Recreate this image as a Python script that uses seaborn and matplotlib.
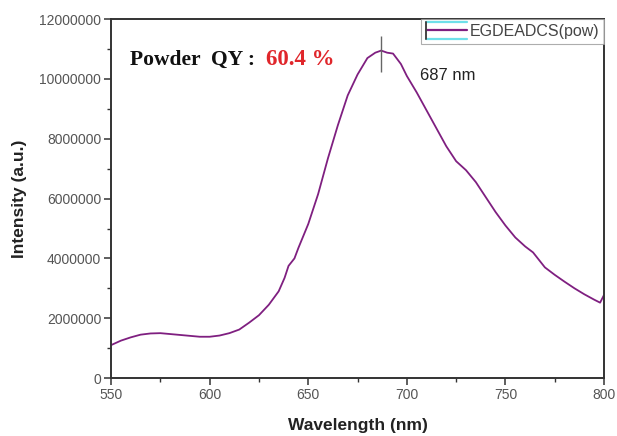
import numpy as np
import pandas as pd
import matplotlib
matplotlib.use("Agg")
import matplotlib.pyplot as plt
from matplotlib.lines import Line2D
from matplotlib.legend_handler import HandlerBase
from matplotlib.ticker import MultipleLocator, FuncFormatter
import seaborn as sns

# Emission spectrum of the powder sample
wavelength = [550, 555, 560, 565, 570, 575, 580, 585, 590, 595, 600, 605, 610, 615,
              620, 625, 630, 635, 638, 640, 643, 645, 650, 655, 660, 665, 670, 675,
              680, 684, 687, 690, 693, 697, 700, 705, 710, 715, 720, 725, 730, 735,
              740, 745, 750, 755, 760, 764, 770, 775, 780, 785, 790, 795, 798, 800]
intensity = [1.10, 1.25, 1.36, 1.45, 1.49, 1.50, 1.47, 1.44, 1.41, 1.38, 1.38, 1.42,
             1.50, 1.62, 1.85, 2.10, 2.45, 2.90, 3.35, 3.75, 4.00, 4.35, 5.15, 6.15,
             7.35, 8.45, 9.45, 10.15, 10.70, 10.88, 10.95, 10.88, 10.85, 10.50, 10.10,
             9.55, 8.95, 8.35, 7.75, 7.25, 6.95, 6.55, 6.05, 5.55, 5.10, 4.70, 4.40,
             4.20, 3.70, 3.45, 3.22, 3.00, 2.80, 2.62, 2.52, 2.78]
intensity = [v * 1e6 for v in intensity]

series_name = "EGDEADCS(pow)"
peak_nm = 687
qy_label = "Powder  QY :"
qy_value = "60.4 %"

df = pd.DataFrame({"Wavelength": wavelength, "Intensity": intensity})

sns.set_style("ticks")
plt.rcParams["font.family"] = ["Liberation Sans", "DejaVu Sans"]

fig = plt.figure(figsize=(6.17, 4.36), dpi=100)
ax = fig.add_axes([0.180, 0.133, 0.799, 0.823])

line_color = "#7f1f80"
sns.lineplot(data=df, x="Wavelength", y="Intensity", ax=ax, color=line_color,
             linewidth=1.3, legend=False)

# peak marker and label
ax.vlines(peak_nm, 10.25e6, 11.45e6, color="#666666", linewidth=1.0)
ax.text(706.5, 10.1e6, f"{peak_nm} nm", fontsize=12, color="#222222", va="center")

# quantum yield annotation
t1 = ax.text(559.5, 10.65e6, qy_label, fontsize=15.5, fontweight="bold",
             family=["Liberation Serif"], color="#111111", va="center")
ax.annotate(qy_value, xy=(1, 0.5), xycoords=t1, xytext=(8, 0),
            textcoords="offset points", va="center", ha="left",
            fontsize=16.5, fontweight="bold", family=["Liberation Serif"],
            color="#e0262b")

ax.set_xlim(550, 800)
ax.set_ylim(0, 12e6)
ax.xaxis.set_major_locator(MultipleLocator(50))
ax.xaxis.set_minor_locator(MultipleLocator(25))
ax.yaxis.set_major_locator(MultipleLocator(2e6))
ax.yaxis.set_minor_locator(MultipleLocator(1e6))
ax.yaxis.set_major_formatter(FuncFormatter(lambda v, p: f"{int(round(v))}"))

ax.tick_params(which="major", direction="out", length=5, width=1.1, color="#333333",
               labelsize=10, labelcolor="#555555", pad=2)
ax.tick_params(which="minor", direction="out", length=3, width=1.0, color="#333333")
for s in ax.spines.values():
    s.set_color("#333333")
    s.set_linewidth(1.4)

ax.set_xlabel("Wavelength (nm)", fontsize=12.5, fontweight="bold", color="#222222",
              labelpad=12)
ax.set_ylabel("Intensity (a.u.)", fontsize=12.5, fontweight="bold", color="#222222",
              labelpad=9)


class SpectrumKeyHandler(HandlerBase):
    """Legend key: purple trace between two cyan guide lines with a dark left bar."""

    def create_artists(self, legend, orig_handle, xdescent, ydescent, width, height,
                       fontsize, trans):
        x0, x1 = -xdescent, -xdescent + width
        ylo, yhi = -ydescent - 0.25 * height, -ydescent + 1.25 * height
        ymid = -ydescent + 0.5 * height
        top = Line2D([x0, x1], [yhi, yhi], color="#6ee0ea", lw=1.6, transform=trans)
        bot = Line2D([x0, x1], [ylo, ylo], color="#6ee0ea", lw=1.6, transform=trans)
        mid = Line2D([x0, x1], [ymid, ymid], color=orig_handle.get_color(), lw=1.6,
                     transform=trans)
        bar = Line2D([x0, x0], [ylo, yhi], color="#444444", lw=1.4, transform=trans)
        return [top, bot, mid, bar]


handle = Line2D([0], [0], color=line_color, linewidth=1.4)
leg = ax.legend([handle], [series_name], loc="upper right", bbox_to_anchor=(1.0, 1.0),
                frameon=True, fontsize=11.5, handlelength=2.6, handletextpad=0.15,
                borderpad=0.3, borderaxespad=0.0, fancybox=False,
                labelcolor="#444444", handler_map={Line2D: SpectrumKeyHandler()})
leg.get_frame().set_edgecolor("#999999")
leg.get_frame().set_linewidth(0.8)

fig.savefig("out.png", dpi=100, facecolor="white")
